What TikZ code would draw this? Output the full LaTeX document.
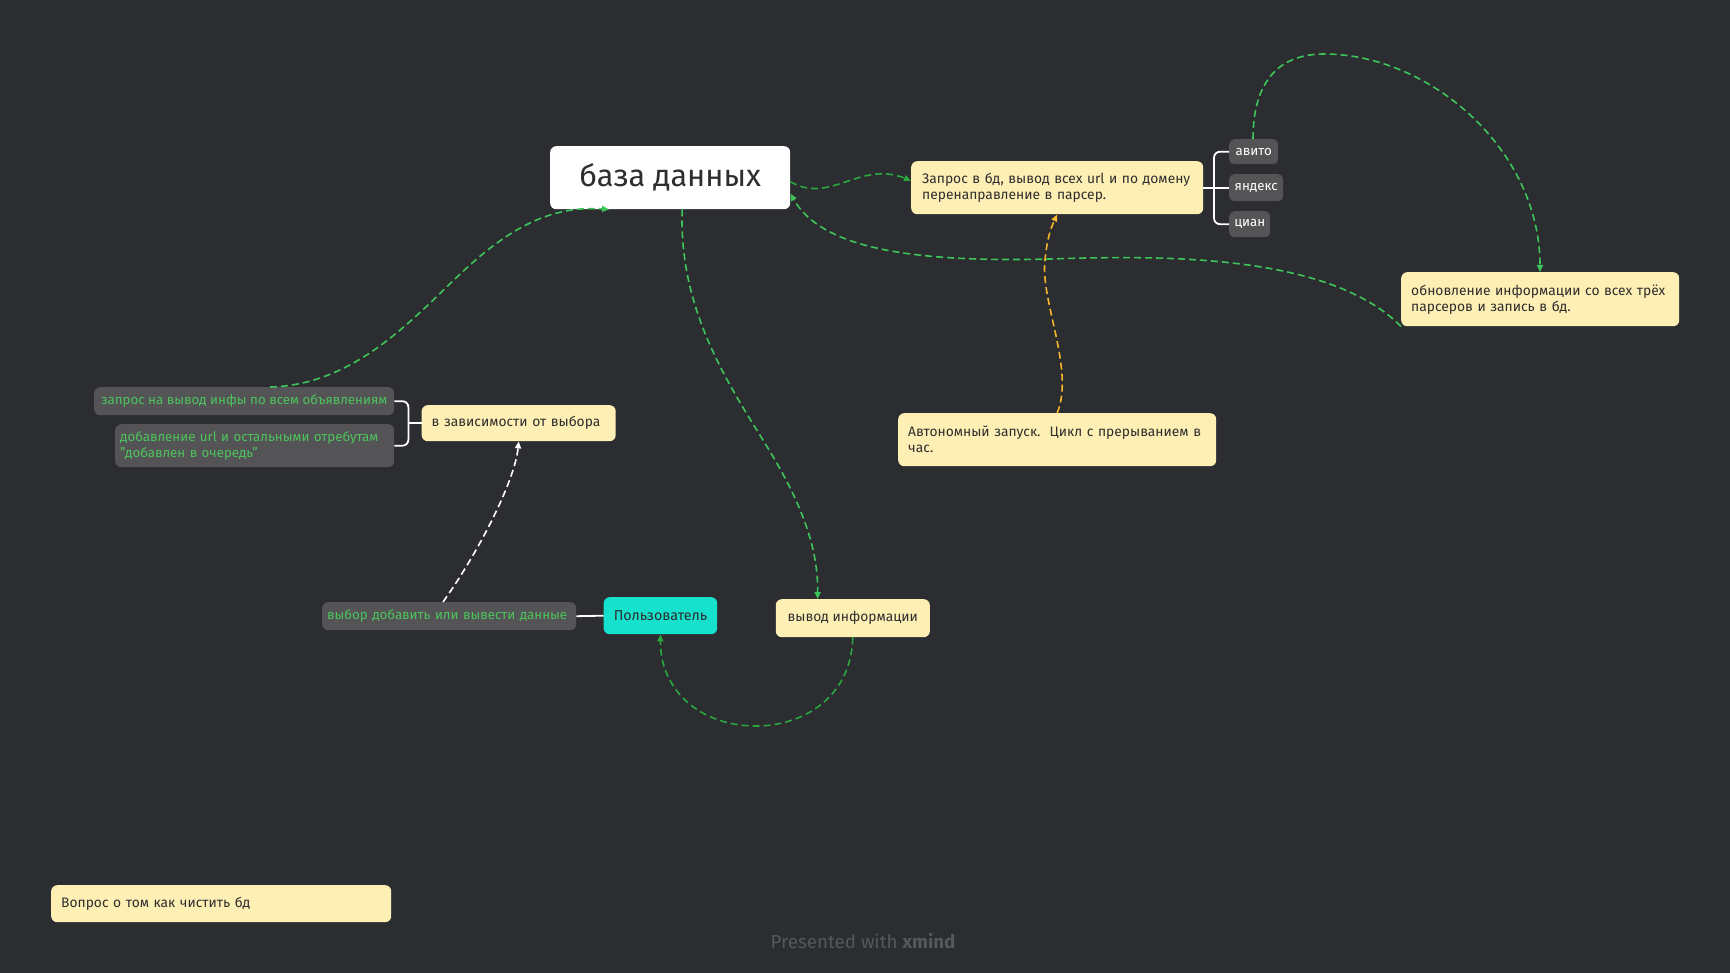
\documentclass[tikz,border=0pt]{standalone}
\usepackage{fontspec}
\setmainfont{Fira Sans}
\usetikzlibrary{arrows.meta}
\definecolor{bg}{HTML}{2B2D31}
\definecolor{ylw}{HTML}{FEEFB5}
\definecolor{gbox}{HTML}{545457}
\definecolor{gtxt}{HTML}{4CC35B}
\definecolor{gline}{HTML}{3EC55A}
\definecolor{dgline}{HTML}{2AA83E}
\definecolor{cyanbox}{HTML}{16E1CC}
\definecolor{orng}{HTML}{F3B62C}
\definecolor{dtxt}{HTML}{2E2E2E}
\definecolor{foot}{HTML}{55575C}
\tikzset{
  box/.style={rounded corners=6pt, anchor=north west, inner ysep=0pt, inner xsep=10pt, align=left, text=dtxt, font=\fontsize{13.8}{16}\selectfont},
  ybox/.style={box, fill=ylw},
  gbx/.style={box, fill=gbox, text=gtxt, font=\fontsize{13.3}{16}\selectfont},
  sbx/.style={box, fill=gbox, text=white, inner xsep=5pt, rounded corners=5pt, font=\fontsize{13.3}{16}\selectfont},
  conn/.style={line width=1.6pt, dash pattern=on 7pt off 4pt, -{Triangle[length=7pt,width=6pt]}},
  brk/.style={white, line width=1.8pt, rounded corners=6pt}
}
\begin{document}
\begin{tikzpicture}[x=1pt,y=-1pt]
\fill[bg] (0,0) rectangle (1730,973);
\useasboundingbox (0,0) rectangle (1730,973);

% nodes
\node[box, fill=white, minimum width=240pt, minimum height=63pt, align=center, font=\fontsize{30.7}{36}\selectfont] (db) at (550,146) {база данных};
\node[ybox, minimum width=291pt, minimum height=53pt, text width=270pt, inner xsep=11pt] (q) at (911,161) {Запрос в бд, вывод всех url и по домену\\перенаправление в парсер.};
\node[sbx, minimum width=49pt, minimum height=25pt] (avito) at (1229,139) {авито};
\node[sbx, minimum width=54pt, minimum height=27pt] (yandex) at (1229,174) {яндекс};
\node[sbx, minimum width=41pt, minimum height=26pt] (cian) at (1229,211) {циан};
\node[ybox, minimum width=278pt, minimum height=54pt, text width=258pt] (upd) at (1401,272) {обновление информации со всех трёх\\парсеров и запись в бд.};
\node[ybox, minimum width=318pt, minimum height=53pt, text width=298pt] (auto) at (898,413) {Автономный запуск.\ \ Цикл с прерыванием в\\час.};
\node[ybox, minimum width=194pt, minimum height=36pt, text width=174pt] (dep) at (421.5,405) {в зависимости от выбора};
\node[gbx, minimum width=300pt, minimum height=28pt, inner xsep=2pt] (g1) at (94,387) {запрос на вывод инфы по всем объявлениям};
\node[gbx, minimum width=279pt, minimum height=43pt, text width=269pt, inner xsep=5pt] (g2) at (115,424) {добавление url и остальными отребутам\\"добавлен в очередь"};
\node[gbx, minimum width=254pt, minimum height=28pt, text width=244pt, inner xsep=5pt] (choice) at (322,602) {выбор добавить или вывести данные};
\node[box, fill=cyanbox, minimum width=113.5pt, minimum height=37pt, align=center, font=\fontsize{14.3}{16}\selectfont] (user) at (603.5,597) {Пользователь};
\node[ybox, minimum width=154pt, minimum height=38pt, align=center] (out) at (775.6,599) {вывод информации};
\node[ybox, minimum width=340pt, minimum height=37pt, text width=320pt] (clean) at (51,885) {Вопрос о том как чистить бд};
\node[text=foot, font=\fontsize{18.8}{22}\selectfont] (foot) at (863,941) {Presented with \textbf{xmind}};

% brackets
\draw[brk] (q.east) -- (yandex.west);
\draw[brk] (avito.west) -- ([xshift=-15pt]avito.west) |- (cian.west);
\draw[brk] (g1.east) -- ([xshift=14pt]g1.east) |- (g2.east);
\draw[brk] (dep.west) -- ([xshift=-14pt]dep.west);
\draw[white, line width=1.8pt] (choice.east) -- (user.west);

% connectors
\draw[conn, dgline] ([yshift=-4pt]db.east) .. controls (830,205) and (860,160) .. ([yshift=7pt]q.west);
\draw[conn, gline] (upd.south west) .. controls (1330,255) and (1170,255) .. (1050,259) .. controls (900,263) and (820,245) .. ([yshift=-16pt]db.east);
\draw[conn, gline] ([xshift=24pt]avito.north west) .. controls (1253,80) and (1280,54) .. (1324,54) .. controls (1430,54) and (1540,150) .. ([xshift=139pt]upd.north west);
\draw[conn, orng] (auto.north) .. controls (1075,370) and (1040,300) .. (1045,260) .. controls (1047,240) and (1050,230) .. (q.south);
\draw[conn, gline] ([xshift=12pt]db.south) .. controls (678,320) and (740,400) .. (775,460) .. controls (810,520) and (818,560) .. ([xshift=42pt]out.north west);
\draw[conn, dgline] (out.south) .. controls (851,700) and (800,726) .. (756,726) .. controls (700,726) and (660,690) .. (user.south);
\draw[conn, white] ([xshift=121pt]choice.north west) .. controls (480,550) and (515,480) .. (dep.south);
\draw[conn, gline] ([xshift=176pt]g1.north west) .. controls (360,385) and (420,310) .. (470,265) .. controls (520,220) and (560,206) .. ([xshift=59pt]db.south west);
\end{tikzpicture}
\end{document}
